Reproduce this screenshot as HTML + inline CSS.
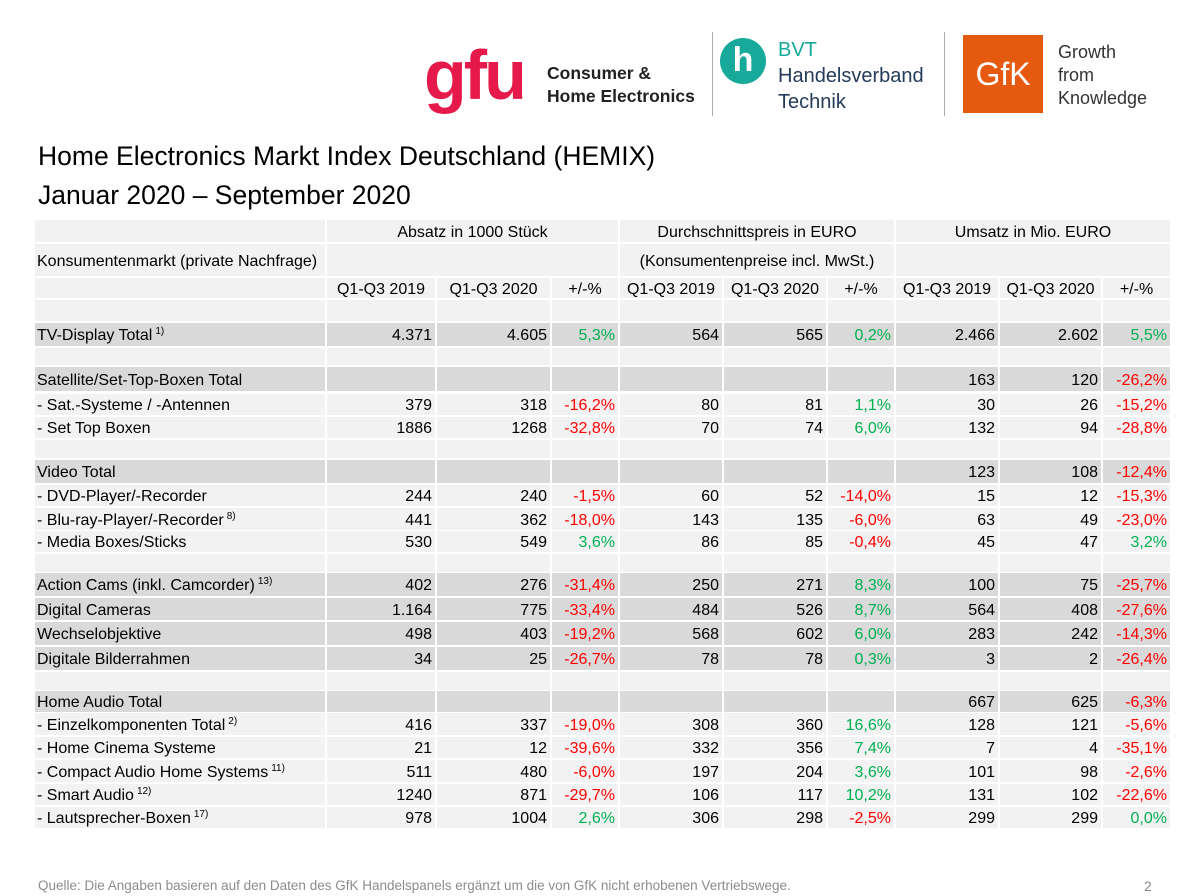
<!DOCTYPE html>
<html><head><meta charset="utf-8">
<style>
body{margin:0;width:1191px;height:896px;background:#fff;position:relative;overflow:hidden;font-family:"Liberation Sans",Arial,sans-serif;}
.c{position:absolute;font-size:16px;color:#000;line-height:1;box-sizing:border-box;white-space:nowrap;display:flex;align-items:center;padding-top:3px;}
.l{background:#f2f2f2}.d{background:#d9d9d9}
.r{justify-content:flex-end;padding-right:3px}
.ctr{justify-content:center}
.lf{padding-left:2px}
.g{color:#00b050}.n{color:#ff0000}
sup{font-size:10px;position:relative;top:-4px;vertical-align:baseline;margin-left:3px}
.t{position:absolute;left:38px;font-size:26.5px;color:#000;white-space:nowrap}
</style></head><body>
<div style="position:absolute;left:424px;top:40px;font:bold 70px 'Liberation Sans',sans-serif;color:#e5194a;letter-spacing:-3px;line-height:1">gfu</div>
<div style="position:absolute;left:547px;top:62px;font:bold 17.5px 'Liberation Sans',sans-serif;color:#222;line-height:23px">Consumer &amp;<br>Home Electronics</div>
<div style="position:absolute;left:712px;top:32px;width:1px;height:84px;background:#aaa"></div>
<div style="position:absolute;left:720px;top:38px;width:46px;height:46px;border-radius:50%;background:#17a99a;color:#fff;font:bold 34px 'Liberation Sans',sans-serif;text-align:center;line-height:44px">h</div>
<div style="position:absolute;left:778px;top:37px;font:20px 'Liberation Sans',sans-serif;color:#243b5a;line-height:26px"><span style="color:#17a99a">BVT</span><br>Handelsverband<br>Technik</div>
<div style="position:absolute;left:944px;top:32px;width:1px;height:84px;background:#aaa"></div>
<div style="position:absolute;left:963px;top:35px;width:80px;height:78px;background:#e55a0e;color:#fff;font:32px 'Liberation Sans',sans-serif;display:flex;align-items:center;justify-content:center">GfK</div>
<div style="position:absolute;left:1058px;top:41px;font:18px 'Liberation Sans',sans-serif;color:#333;line-height:23px">Growth<br>from<br>Knowledge</div>
<div class="t" style="top:141px">Home Electronics Markt Index Deutschland (HEMIX)</div>
<div class="t" style="top:180px">Januar 2020 – September 2020</div>
<div id="tbl"></div>
<div style="position:absolute;left:38px;top:878px;font-size:13.5px;color:#8c8c8c">Quelle: Die Angaben basieren auf den Daten des GfK Handelspanels ergänzt um die von GfK nicht erhobenen Vertriebswege.</div>
<div style="position:absolute;left:1144px;top:878px;font-size:14px;color:#8c8c8c">2</div>
<script>
const colX=[35,327,437,552,620,724,828,896,1000,1103];
const colW=[290,108,113,66,102,102,66,102,101,67];
const labels=["","TV-Display Total|1)","","Satellite/Set-Top-Boxen Total","- Sat.-Systeme / -Antennen","- Set Top Boxen","","Video Total","- DVD-Player/-Recorder","- Blu-ray-Player/-Recorder|8)","- Media Boxes/Sticks","","Action Cams (inkl. Camcorder)|13)","Digital Cameras","Wechselobjektive","Digitale Bilderrahmen","","Home Audio Total","- Einzelkomponenten Total|2)","- Home Cinema Systeme","- Compact Audio Home Systems|11)","- Smart Audio|12)","- Lautsprecher-Boxen|17)"];
const absatz2019=["","4.371","","","379","1886","","","244","441","530","","402","1.164","498","34","","","416","21","511","1240","978"];
const absatz2020=["","4.605","","","318","1268","","","240","362","549","","276","775","403","25","","","337","12","480","871","1004"];
const absatzPct=["","5,3%","","","-16,2%","-32,8%","","","-1,5%","-18,0%","3,6%","","-31,4%","-33,4%","-19,2%","-26,7%","","","-19,0%","-39,6%","-6,0%","-29,7%","2,6%"];
const preis2019=["","564","","","80","70","","","60","143","86","","250","484","568","78","","","308","332","197","106","306"];
const preis2020=["","565","","","81","74","","","52","135","85","","271","526","602","78","","","360","356","204","117","298"];
const preisPct=["","0,2%","","","1,1%","6,0%","","","-14,0%","-6,0%","-0,4%","","8,3%","8,7%","6,0%","0,3%","","","16,6%","7,4%","3,6%","10,2%","-2,5%"];
const umsatz2019=["","2.466","","163","30","132","","123","15","63","45","","100","564","283","3","","667","128","7","101","131","299"];
const umsatz2020=["","2.602","","120","26","94","","108","12","49","47","","75","408","242","2","","625","121","4","98","102","299"];
const umsatzPct=["","5,5%","","-26,2%","-15,2%","-28,8%","","-12,4%","-15,3%","-23,0%","3,2%","","-25,7%","-27,6%","-14,3%","-26,4%","","-6,3%","-5,6%","-35,1%","-2,6%","-22,6%","0,0%"];
const rowTop=[300,323,348,367,394,417,440,460,485,508,531,554,573,598,622,647,672,691,713,737,760,784,807];
const rowH=[21,23,17,24,21,21,18,23,21,22,21,18,23,22,23,23,18,21,22,21,22,21,21];
const dark=[0,1,0,1,0,0,0,1,0,0,0,0,1,1,1,1,0,1,0,0,0,0,0];
const T=document.getElementById('tbl');
function cell(x,y,w,h,cls,html,name){const d=document.createElement('div');d.className='c '+cls;
d.style.left=x+'px';d.style.top=y+'px';d.style.width=w+'px';d.style.height=h+'px';d.innerHTML=html;


T.appendChild(d);}
cell(35,220,290,22,'l','','header-blank');
cell(327,220,291,22,'l ctr','Absatz in 1000 Stück','header-absatz');
cell(620,220,274,22,'l ctr','Durchschnittspreis in EURO','header-preis');
cell(896,220,274,22,'l ctr','Umsatz in Mio. EURO','header-umsatz');
cell(35,244,290,32,'l lf','Konsumentenmarkt (private Nachfrage)','header-konsumentenmarkt');
cell(327,244,291,32,'l','','header-blank');
cell(620,244,274,32,'l ctr','(Konsumentenpreise incl. MwSt.)','header-preis-note');
cell(896,244,274,32,'l','','header-blank');
const qh=["","Q1-Q3 2019","Q1-Q3 2020","+/-%","Q1-Q3 2019","Q1-Q3 2020","+/-%","Q1-Q3 2019","Q1-Q3 2020","+/-%"];
for(let c=0;c<10;c++)cell(colX[c],278,colW[c],20,'l ctr',qh[c],'period-header');
const cols=[absatz2019,absatz2020,absatzPct,preis2019,preis2020,preisPct,umsatz2019,umsatz2020,umsatzPct];
for(let i=0;i<labels.length;i++){
 const bg=dark[i]?'d':'l';const p=labels[i].split('|');
 cell(colX[0],rowTop[i],colW[0],rowH[i],bg+' lf',p[0]+(p[1]?'<sup>'+p[1]+'</sup>':''),'row-label');
 for(let c=0;c<9;c++){const v=cols[c][i];let cls=bg+' r';
  if(c%3==2&&v)cls+=v.startsWith('-')?' n':' g';
  cell(colX[c+1],rowTop[i],colW[c+1],rowH[i],cls,v,'value-cell');}
}
</script>
</body></html>
